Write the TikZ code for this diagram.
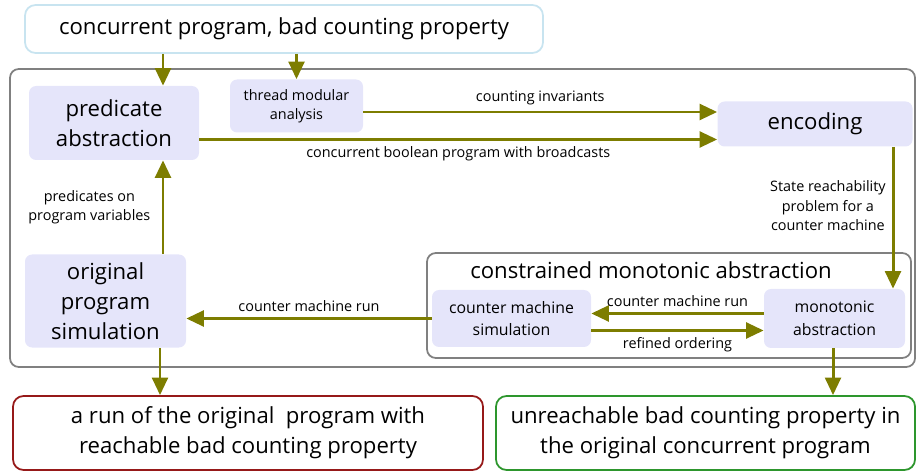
\documentclass[tikz,border=0pt]{standalone}
\usepackage{fontspec}
\setmainfont{Open Sans}
\usetikzlibrary{arrows.meta}
\definecolor{olivearr}{RGB}{125,125,0}
\definecolor{lav}{RGB}{229,229,250}
\definecolor{skyline}{RGB}{200,228,240}
\definecolor{runred}{RGB}{150,25,25}
\definecolor{okgreen}{RGB}{45,150,45}

\begin{document}
\begin{tikzpicture}[
  blk/.style={fill=lav,rounded corners=4pt,align=center,inner sep=1pt},
  big/.style={font=\fontsize{12.6}{17}\selectfont},
  small/.style={font=\fontsize{8.2}{11}\selectfont},
  frame/.style={draw=gray,line width=1pt,rounded corners=5pt},
  res/.style={draw,line width=1pt,rounded corners=6pt,fill=white,align=center,big},
  arr/.style={draw=olivearr,line width=1.7pt,-{Triangle[length=10pt,width=9pt]}},
  lbl/.style={align=center,small}
]
\useasboundingbox (0,0) rectangle (18.34,-9.48);

% frames
\draw[frame] (0.2,-1.38) rectangle (18.3,-7.34);
\draw[frame] (8.54,-5.06) rectangle (18.22,-7.16);

\node[res,draw=skyline,minimum width=10.36cm,minimum height=0.96cm] (T) at (5.68,-0.58) {concurrent program, bad counting property};

\begin{scope}
    \node[blk,big,minimum width=3.4cm,minimum height=1.48cm] (P) at (2.28,-2.46) {predicate\\abstraction};
    \node[blk,small,minimum width=2.66cm,minimum height=1.06cm] (M) at (5.93,-2.12) {thread modular\\analysis};
    \node[blk,big,minimum width=3.9cm,minimum height=0.9cm] (E) at (16.3,-2.48) {encoding};
    \node[blk,big,minimum width=3.22cm,minimum height=1.86cm] (O) at (2.11,-6.02) {original\\program\\simulation};
    \node[big] (C) at (13.02,-5.4) {constrained monotonic abstraction};
    \node[blk,lbl,font=\fontsize{9}{13}\selectfont,minimum width=3.18cm,minimum height=1.14cm] (S) at (10.23,-6.37) {counter machine\\simulation};
    \node[blk,lbl,font=\fontsize{9}{13}\selectfont,minimum width=2.82cm,minimum height=1.18cm] (A) at (16.69,-6.37) {monotonic\\abstraction};
\end{scope}

\node[res,draw=runred,minimum width=9.4cm,minimum height=1.48cm] (R) at (4.96,-8.66) {a run of the original~ program with\\reachable bad counting property};
\node[res,draw=okgreen,minimum width=8.38cm,minimum height=1.48cm] (G) at (14.11,-8.66) {unreachable bad counting property in\\the original concurrent program};

% arrows
\draw[arr] (T.south -| 3.26,0) -- (P.north -| 3.26,0);
\draw[arr] (T.south -| M.north) -- (M.north);
\draw[arr] ([yshift=-0.12cm]M.east) -- node[lbl,above] {counting invariants} ([yshift=-0.12cm]M.east -| E.west);
\draw[arr] ([yshift=-0.33cm]P.east) -- node[lbl,below] {concurrent boolean program with broadcasts} ([yshift=-0.33cm]P.east -| E.west);
\draw[arr] (E.south -| 17.86,0) -- node[lbl,left,yshift=0.24cm] {State reachability\\problem for a\\counter machine} (A.north -| 17.86,0);
\draw[arr] (O.north -| 3.26,0) -- node[lbl,left,xshift=-3pt] {predicates on\\program variables} (P.south -| 3.26,0);
\draw[arr] (S.west) -- node[lbl,above] {counter machine run} (O.east |- S.west);
\draw[arr] ([yshift=0.1cm]A.west) -- node[lbl,above] {counter machine run} ([yshift=0.1cm]S.east);
\draw[arr] ([yshift=-0.24cm]S.east) -- node[lbl,below] {refined ordering} ([yshift=-0.24cm]A.west);
\draw[arr] (O.south -| 3.2,0) -- (R.north -| 3.2,0);
\draw[arr] (A.south -| 16.66,0) -- (G.north -| 16.66,0);
\end{tikzpicture}
\end{document}
